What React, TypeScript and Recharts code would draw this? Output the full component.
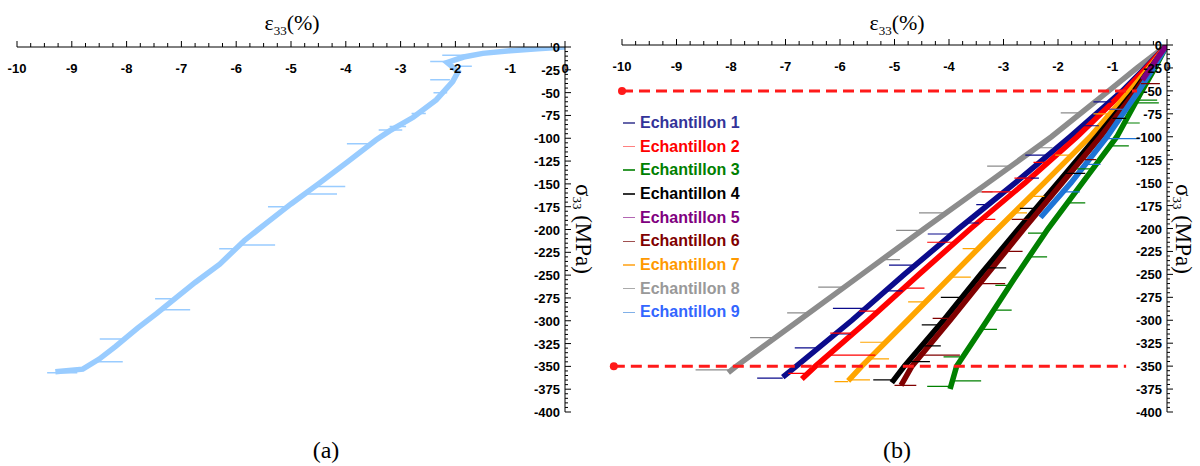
import React from "react";
import { LineChart, Line, XAxis, YAxis, ReferenceLine, ReferenceDot, Legend } from "recharts";

// [strain %, stress MPa]
type Pt = [number, number];
// [stress MPa, strain on the band, strain at the tip of the spike]
type Spike = [number, number, number];

const strainMajor = [-10, -9, -8, -7, -6, -5, -4, -3, -2, -1, 0];
const stressMajor = [0, -25, -50, -75, -100, -125, -150, -175, -200, -225, -250, -275, -300, -325, -350, -375, -400];
const strainMinorStep = 0.25;
const stressMinorStep = 5;

// (a) single specimen
const specimenA: Pt[] = [
  [0, 0], [-0.5, -2], [-1.0, -4], [-1.5, -7], [-1.85, -11], [-2.15, -17], [-1.95, -27], [-2.05, -38],
  [-2.35, -58], [-2.77, -77], [-3.2, -92], [-3.45, -102], [-3.95, -125], [-4.5, -150], [-5.0, -172],
  [-5.45, -193], [-5.85, -212], [-6.3, -238], [-6.75, -258], [-7.1, -275], [-7.45, -292], [-7.8, -308],
  [-8.2, -328], [-8.5, -342], [-8.8, -353], [-9.3, -356],
];
const spikesA: Spike[] = [
  [-9, -1.79, -2.24], [-16, -2.15, -2.46], [-21, -1.94, -1.7], [-36, -2.1, -2.46], [-50, -2.15, -2.4],
  [-73, -2.54, -2.8], [-87, -2.9, -3.2], [-91, -2.97, -3.4], [-106, -3.55, -3.98], [-153, -4.55, -4.01],
  [-161, -4.75, -4.16], [-175, -5.05, -5.42], [-217, -5.9, -5.29], [-221, -6.0, -6.31], [-276, -7.12, -7.48],
  [-288, -7.35, -6.84], [-320, -8.05, -8.49], [-345, -8.55, -8.07], [-357, -8.9, -9.45],
];

// (b) nine specimens
const ech1: Pt[] = [[0, 0], [-0.4, -25], [-0.82, -50], [-1.78, -100], [-2.78, -150], [-3.82, -200], [-4.82, -250], [-5.78, -300], [-6.8, -350], [-7.05, -362]];
const ech2: Pt[] = [[0, 0], [-0.38, -25], [-0.78, -50], [-1.65, -100], [-2.6, -150], [-3.6, -200], [-4.55, -250], [-5.48, -300], [-6.45, -350], [-6.7, -364]];
const ech3: Pt[] = [[0, 0], [-0.22, -25], [-0.46, -50], [-0.92, -100], [-1.55, -150], [-2.18, -200], [-2.75, -250], [-3.3, -300], [-3.86, -350], [-3.98, -375]];
const ech4: Pt[] = [[0, 0], [-0.3, -25], [-0.6, -50], [-1.29, -100], [-2.0, -150], [-2.72, -200], [-3.42, -250], [-4.1, -300], [-4.82, -350], [-5.05, -368]];
const ech5: Pt[] = [[0, 0], [-0.15, -12], [-0.3, -25], [-0.45, -38]];
const ech6: Pt[] = [[0, 0], [-0.28, -25], [-0.57, -50], [-1.22, -100], [-1.92, -150], [-2.62, -200], [-3.3, -250], [-3.98, -300], [-4.68, -350], [-4.88, -371]];
const ech7: Pt[] = [[0, 0], [-0.33, -25], [-0.68, -50], [-1.41, -100], [-2.25, -150], [-3.1, -200], [-3.93, -250], [-4.76, -300], [-5.6, -350], [-5.85, -366]];
const ech8: Pt[] = [[0, 0], [-0.55, -25], [-1.07, -50], [-2.12, -100], [-3.28, -150], [-4.45, -200], [-5.6, -250], [-6.75, -300], [-7.9, -350], [-8.05, -357]];
const ech9: Pt[] = [[0, 0], [-0.25, -25], [-0.52, -50], [-1.1, -100], [-1.76, -150], [-2.32, -188]];

const spikes1: Spike[] = [[-62, -1.02, -1.35], [-88, -1.55, -1.25], [-120, -2.18, -2.6], [-145, -2.68, -2.35], [-174, -3.28, -3.5], [-194, -3.7, -3.45], [-206, -3.94, -4.39], [-240, -4.62, -5.1], [-268, -5.18, -4.85], [-287, -5.52, -6.13], [-315, -6.08, -5.8], [-330, -6.4, -6.83], [-363, -7.05, -7.52]];
const spikes2: Spike[] = [[-70, -1.1, -0.85], [-128, -2.18, -2.45], [-145, -2.5, -2.8], [-160, -2.8, -3.4], [-190, -3.4, -3.15], [-215, -3.88, -4.4], [-265, -4.83, -4.45], [-290, -5.3, -5.65], [-314, -5.75, -6.18], [-338, -6.22, -5.35], [-358, -6.6, -6.95]];
const spikes3: Spike[] = [[-60, -0.56, -0.18], [-63, -0.58, -0.15], [-85, -0.78, -0.5], [-110, -1.05, -0.7], [-135, -1.36, -1.65], [-172, -1.82, -1.5], [-205, -2.24, -2.55], [-231, -2.53, -2.2], [-262, -2.88, -3.15], [-289, -3.2, -2.85], [-310, -3.42, -3.12], [-340, -3.75, -4.1], [-366, -3.94, -3.41], [-372, -3.96, -4.4]];
const spikes4: Spike[] = [[-80, -1.0, -0.75], [-140, -1.86, -1.5], [-178, -2.4, -2.7], [-243, -3.32, -2.95], [-275, -3.77, -4.15], [-305, -4.17, -4.5], [-328, -4.5, -4.15], [-345, -4.75, -4.35], [-365, -5.0, -5.39]];
const spikes5: Spike[] = [];
const spikes6: Spike[] = [[-42, -0.48, -0.13], [-125, -1.57, -1.3], [-190, -2.48, -2.85], [-225, -2.96, -2.65], [-260, -3.44, -2.97], [-298, -3.95, -4.3], [-338, -4.51, -3.8], [-371, -5.0, -4.6]];
const spikes7: Spike[] = [[-75, -1.05, -1.35], [-120, -1.75, -2.05], [-165, -2.5, -2.25], [-183, -2.8, -2.57], [-222, -3.45, -3.75], [-253, -3.98, -3.6], [-280, -4.42, -4.75], [-324, -5.2, -5.63], [-342, -5.47, -5.1], [-365, -5.85, -5.45], [-367, -5.85, -6.1]];
const spikes8: Spike[] = [[-74, -1.6, -1.95], [-112, -2.4, -2.1], [-132, -2.86, -3.3], [-160, -3.5, -3.2], [-183, -4.1, -4.55], [-202, -4.5, -4.97], [-234, -5.23, -4.9], [-264, -5.92, -6.4], [-292, -6.57, -6.97], [-319, -7.18, -7.65], [-354, -7.98, -8.65]];
const spikes9: Spike[] = [[-70, -0.75, -1.05], [-102, -1.12, -0.5], [-130, -1.5, -1.22], [-160, -1.9, -1.6]];

const echNames = ["Echantillon 1", "Echantillon 2", "Echantillon 3", "Echantillon 4", "Echantillon 5", "Echantillon 6", "Echantillon 7", "Echantillon 8", "Echantillon 9"];
const guideStress = [-50, -350];
const guideStart = [-10, -10.15];
const guideEnd = [-0.55, -0.75];

const lineColors = ["#0b0b8c", "#ff0000", "#008000", "#000000", "#800080", "#800000", "#ffa500", "#8c8c8c", "#1e74d6"];
const textColors = ["#333399", "#ff0000", "#008000", "#000000", "#800080", "#800000", "#ff9900", "#999999", "#3366ff"];
const markColors = ["#6666aa", "#ff8080", "#339933", "#333333", "#b366b3", "#a05050", "#ffb84d", "#aaaaaa", "#80b0e8"];

const bands = [ech1, ech2, ech3, ech4, ech5, ech6, ech7, ech8, ech9];
const spikes = [spikes1, spikes2, spikes3, spikes4, spikes5, spikes6, spikes7, spikes8, spikes9];
// drawing order, back to front
const drawOrder = [7, 0, 1, 6, 3, 5, 2, 8, 4];

const W = 600;
const H = 466;
const tickFont: React.CSSProperties = { fontFamily: "'Liberation Sans', Arial, sans-serif", fontWeight: "bold", fontSize: 13, fill: "#000" };
const serif = "'Liberation Serif', 'Times New Roman', serif";

function stepTicks(major: number[], step: number) {
  const lo = Math.min(...major);
  const hi = Math.max(...major);
  const out: number[] = [];
  for (let v = lo; v <= hi + 1e-9; v += step) out.push(Math.round(v * 100) / 100);
  return out;
}
const xTicks = stepTicks(strainMajor, strainMinorStep);
const yTicks = stepTicks(stressMajor, stressMinorStep);

const toRows = (pts: Pt[]) => pts.map(([x, y]) => ({ x, y }));
const spikeRows = (sp: Spike[]) => {
  const rows: { x: number; y: number | null }[] = [];
  sp.forEach(([s, a, b]) => {
    rows.push({ x: a, y: s }, { x: b, y: s }, { x: b, y: null });
  });
  return rows;
};

const XTick = (props: any) => {
  const { x, y, payload } = props;
  const v = payload.value;
  const major = strainMajor.includes(v);
  return (
    <g>
      <line x1={x} x2={x} y1={y} y2={y - (major ? 6 : 4)} stroke="#000" />
      {major && (
        <text x={x} y={y + 26} textAnchor="middle" style={tickFont}>
          {v}
        </text>
      )}
    </g>
  );
};

const YTick = (props: any) => {
  const { x, y, payload } = props;
  const v = payload.value;
  const major = stressMajor.includes(v);
  return (
    <g>
      <line x1={x} x2={x + (major ? 6 : 3)} y1={y} y2={y} stroke="#000" />
      {major && (
        <text x={x - 5} y={y + 5} textAnchor="end" style={tickFont}>
          {v}
        </text>
      )}
    </g>
  );
};

function Axes() {
  return [
    <XAxis
      key="x"
      type="number"
      dataKey="x"
      domain={[-10, 0]}
      allowDataOverflow
      orientation="top"
      height={1}
      ticks={xTicks}
      interval={0}
      tickSize={0}
      tickMargin={0}
      tickLine={false}
      axisLine={{ stroke: "#000" }}
      tick={(p: any) => <XTick {...p} />}
    />,
    <YAxis
      key="y"
      type="number"
      dataKey="y"
      domain={[-400, 0]}
      allowDataOverflow
      orientation="right"
      width={1}
      ticks={yTicks}
      interval={0}
      tickSize={0}
      tickMargin={0}
      tickLine={false}
      axisLine={{ stroke: "#000" }}
      tick={(p: any) => <YTick {...p} />}
    />,
  ];
}

function StrainTitle({ cx }: { cx: number }) {
  return (
    <div style={{ position: "absolute", left: cx - 60, top: 10, width: 120, textAlign: "center", fontFamily: serif, fontSize: 22, lineHeight: "26px" }}>
      ε<sub style={{ fontSize: 13 }}>33</sub>(%)
    </div>
  );
}

function StressTitle({ cx }: { cx: number }) {
  return (
    <div style={{ position: "absolute", left: cx - 13, top: 184, height: 110, width: 24, writingMode: "vertical-rl", fontFamily: serif, fontSize: 23, lineHeight: "24px" }}>
      σ<sub style={{ fontSize: 13 }}>33</sub> (MPa)
    </div>
  );
}

function Caption({ cx, text }: { cx: number; text: string }) {
  return (
    <div style={{ position: "absolute", left: cx - 30, top: 436, width: 60, textAlign: "center", fontFamily: serif, fontSize: 24, lineHeight: "28px" }}>
      {text}
    </div>
  );
}

const renderLegend = () => (
  <div>
    {echNames.map((name, i) => (
      <div key={name} style={{ display: "flex", alignItems: "center", height: 23.7 }}>
        <span style={{ display: "inline-block", width: 12, height: 1.5, background: markColors[i], marginRight: 5 }} />
        <span style={{ color: textColors[i], fontFamily: "'Liberation Sans', Arial, sans-serif", fontWeight: "bold", fontSize: 16 }}>{name}</span>
      </div>
    ))}
  </div>
);

export default function App() {
  return (
    <div style={{ position: "absolute", left: 0, top: 0, width: 1200, height: H, background: "#fff" }}>
      <div style={{ position: "absolute", left: 0, top: 0 }}>
        <LineChart width={W} height={H} margin={{ top: 46, right: 34, bottom: 54, left: 17 }}>
          {Axes()}
          <Line data={toRows(specimenA)} dataKey="y" type="linear" stroke="#99ccff" strokeWidth={5.5} dot={false} activeDot={false} isAnimationActive={false} />
          <Line data={spikeRows(spikesA)} dataKey="y" type="linear" stroke="#99ccff" strokeWidth={1.5} dot={false} activeDot={false} isAnimationActive={false} />
        </LineChart>
      </div>
      <div style={{ position: "absolute", left: 600, top: 0 }}>
        <LineChart width={W} height={H} margin={{ top: 44, right: 32, bottom: 54, left: 22 }}>
          {Axes()}
          {drawOrder.map((i) => (
            <Line key={"b" + i} data={toRows(bands[i])} dataKey="y" name={echNames[i]} type="linear" stroke={lineColors[i]} strokeWidth={5.5} dot={false} activeDot={false} isAnimationActive={false} />
          ))}
          {drawOrder.map((i) => (
            <Line key={"s" + i} data={spikeRows(spikes[i])} dataKey="y" legendType="none" type="linear" stroke={lineColors[i]} strokeWidth={1.2} dot={false} activeDot={false} isAnimationActive={false} />
          ))}
          {guideStress.map((s, k) => (
            <ReferenceLine key={"g" + k} segment={[{ x: guideStart[k], y: s }, { x: guideEnd[k], y: s }]} stroke="#ff1a1a" strokeWidth={3} strokeDasharray="11 6" ifOverflow="visible" />
          ))}
          {guideStress.map((s, k) => (
            <ReferenceDot key={"d" + k} x={guideStart[k]} y={s} r={4} fill="#ff1a1a" stroke="none" ifOverflow="visible" />
          ))}
          <Legend layout="vertical" align="center" verticalAlign="middle" content={renderLegend} wrapperStyle={{ left: 23, top: 111, width: 140 }} />
        </LineChart>
      </div>
      <StrainTitle cx={292} />
      <StrainTitle cx={897} />
      <StressTitle cx={584} />
      <StressTitle cx={1184} />
      <Caption cx={326} text="(a)" />
      <Caption cx={897} text="(b)" />
    </div>
  );
}
